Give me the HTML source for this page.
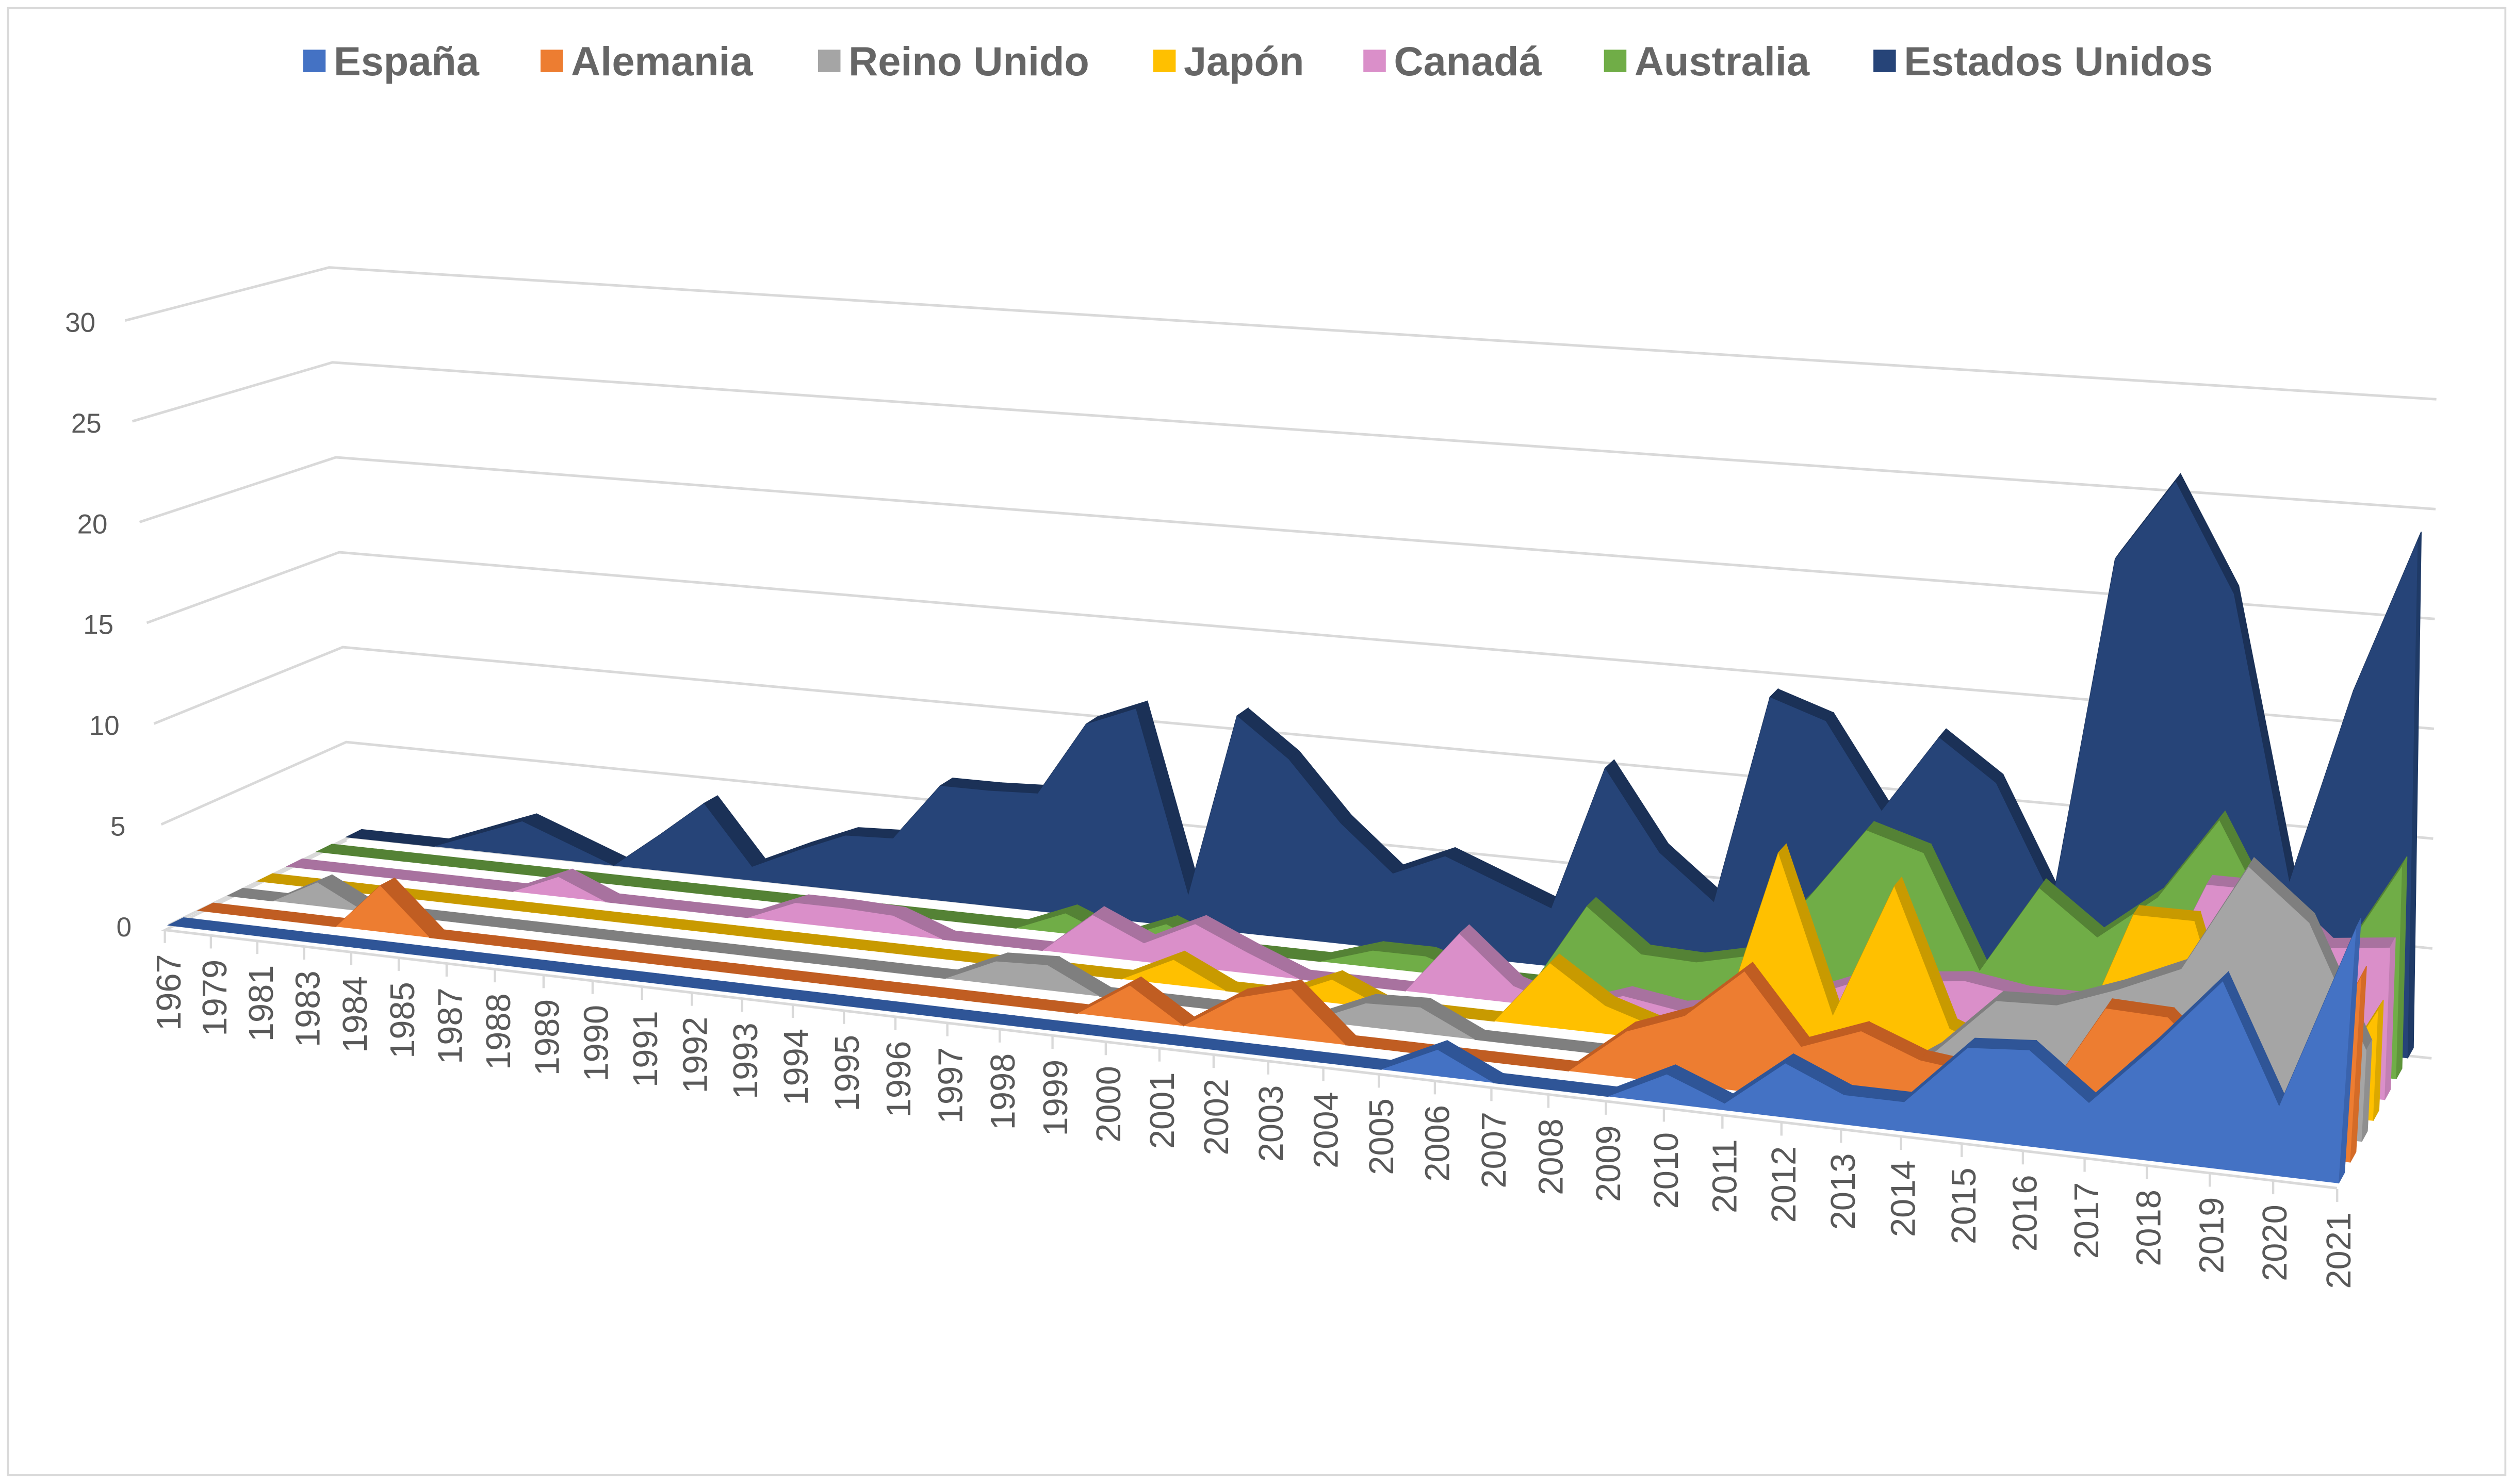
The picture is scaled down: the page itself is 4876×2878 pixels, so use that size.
<!DOCTYPE html>
<html>
<head>
<meta charset="utf-8">
<style>
  html, body { margin: 0; padding: 0; background: #ffffff; }
  svg { display: block; }
  text { font-family: "Liberation Sans", Arial, sans-serif; }
</style>
</head>
<body>
<svg id="chart" xmlns="http://www.w3.org/2000/svg" width="4876" height="2878" viewBox="0 0 1568 925.5">
  <rect x="0" y="0" width="1568" height="925.5" fill="#ffffff"/>
  <rect x="5" y="5" width="1557" height="915" fill="none" stroke="#d9d9d9" stroke-width="1.2"/>
  <g id="legend"></g>
  <g id="walls"></g>
  <g id="floor"></g>
  <g id="series"></g>
  <g id="yaxis"></g>
  <g id="xaxis"></g>
</svg>
<script>
const categories = ["1967","1979","1981","1983","1984","1985","1987","1988","1989","1990","1991","1992","1993","1994","1995","1996","1997","1998","1999","2000","2001","2002","2003","2004","2005","2006","2007","2008","2009","2010","2011","2012","2013","2014","2015","2016","2017","2018","2019","2020","2021"];
const espana = [0,0,0,0,0,0,0,0,0,0,0,0,0,0,0,0,0,0,0,0,0,0,0,0,0,1.2,0,0,0,1.3,0.3,2.4,1.3,1.3,4,4.2,2.2,5,8.1,3,11];
const alemania = [0,0,0,0,2.3,0,0,0,0,0,0,0,0,0,0,0,0,0,0,1.6,0,1.6,2.3,0,0,0,0,0,2.1,3.1,5.4,2.3,3.3,2.3,2,1,5.5,5.4,3,2,8.1];
const reinoUnido = [0,0,1.2,0,0,0,0,0,0,0,0,0,0,0,0,0,1.1,1.2,0,0,0,0,0,1.1,1.2,0,0,0,0,0,0,0,0,1.8,4.4,4.5,5.5,6.7,11.5,9.3,4];
const japon = [0,0,0,0,0,0,0,0,0,0,0,0,0,0,0,0,0,0,0,1.2,0,0,1.1,0,0,0,3,1.3,0.5,0.5,9.2,2,8.2,2,1,1,8,8,0,0,4.9];
const canada = [0,0,0,0,0,0,1,0,0,0,0,1,1,0.9,0,0,0,2,0.9,2.1,1,0,0,0,3,0.8,0,0.9,0.5,1,1.5,2.6,3,3.3,2.9,2.9,2.8,8.8,8.8,6.5,6.8];
const australia = [0,0,0,0,0,0,0,0,0,0,0,0,0,0,0,0,1,0,1,0,0,0,0.8,0.8,0,0,4,2,1.9,2.5,5.5,8.9,8.1,2.9,7,5,7.1,10.9,6,5,9.6];
const estadosUnidos = [0,0,0,0.9,1.8,0.9,0,1.8,3.7,0.7,1.8,2.8,2.9,5.8,5.8,5.9,9.6,10.6,1.6,10.7,8.8,5.9,3.7,4.8,3.8,2.8,9.8,6,3.9,13.9,13,9,12.7,10.8,5.6,21.7,25.5,20.5,7.5,16.5,23.6];
const seriesNames = ["España","Alemania","Reino Unido","Japón","Canadá","Australia","Estados Unidos"];
const yTicks = [0,5,10,15,20,25,30];

const NS = "http://www.w3.org/2000/svg";
const seriesData = [espana, alemania, reinoUnido, japon, canada, australia, estadosUnidos];
const frontColors = ["#4472c4","#ed7d31","#a5a5a5","#ffc000","#da8fc9","#70ad47","#264478"];
const topColors   = ["#2f5597","#c05d22","#7f7f7f","#c89a00","#a8729f","#548235","#1b3157"];
const sideColors  = ["#3a63ad","#d46b27","#8f8f8f","#dba800","#c27fb3","#5f953b","#1f3a66"];

const FL=[105,577], FR=[1458,738], BL=[216,522], BR=[1501,660];
const Q = 0.003887, NX = categories.length - 1;
function T(X){ return (X/(1-Q*X)) / (NX/(1-Q*NX)); }
function lerp(a,b,u){ return a+(b-a)*u; }
function proj(X, d, v){
  const t = T(X);
  const fx = lerp(lerp(FL[0],FR[0],t), lerp(BL[0],BR[0],t), d);
  const fy = lerp(lerp(FL[1],FR[1],t), lerp(BL[1],BR[1],t), d);
  const sc = lerp(lerp(12.57,14.5,t), lerp(11.84,13.7,t), d);
  const tx = lerp(lerp(-0.9,1.0,t), lerp(-0.43,0.27,t), d);
  return [fx + tx*v, fy - sc*v];
}
function pts(arr){ return arr.map(p => p[0].toFixed(2)+","+p[1].toFixed(2)).join(" "); }
function mk(tag, attrs, parent){
  const e = document.createElementNS(NS, tag);
  for (const k in attrs) e.setAttribute(k, attrs[k]);
  parent.appendChild(e);
  return e;
}

const walls = document.getElementById("walls");
yTicks.forEach(v => {
  const lf = [105-0.9*v, 577-12.57*v];
  const lb = [218-0.43*v, 522-11.84*v];
  const rb = [1516+0.1*v, 660-13.7*v];
  const g1 = mk("polyline", {points: pts([lf, lb, rb]), fill:"none", stroke:"#d9d9d9", "stroke-width":"1.6"}, walls);
  
  
});

const floorG = document.getElementById("floor");
const fe0 = [103,580], fe1 = [1457,741];
const fl = mk("polyline", {points: pts([[216,524], fe0, fe1]), fill:"none", stroke:"#d9d9d9", "stroke-width":"1.6"}, floorG);


categories.forEach((c, i) => {
  const p = proj(i, -0.02, 0);
  const tk = mk("line", {x1:p[0], y1:p[1]+2, x2:p[0], y2:p[1]+10, stroke:"#d9d9d9", "stroke-width":"1.4"}, floorG);
  
  
});

const sg = document.getElementById("series");
const DZ = 0.085;
for (let s = seriesData.length - 1; s >= 0; s--) {
  const vals = seriesData[s];
  const d0 = s/6, d1 = s/6 + DZ;
  const g = mk("g", {}, sg);
  
  
  for (let i = 0; i < vals.length - 1; i++) {
    const quad = [proj(i,d0,vals[i]), proj(i+1,d0,vals[i+1]), proj(i+1,d1,vals[i+1]), proj(i,d1,vals[i])];
    const tf = mk("polygon", {points: pts(quad), fill: topColors[s], stroke: topColors[s], "stroke-width":"0.5"}, g);
    
    
  }
  const L = vals.length - 1;
  const side = [proj(L,d0,vals[L]), proj(L,d1,vals[L]), proj(L,d1,0), proj(L,d0,0)];
  const sf = mk("polygon", {points: pts(side), fill: sideColors[s], stroke: sideColors[s], "stroke-width":"0.5"}, g);
  
  
  const front = [proj(0,d0,0)];
  vals.forEach((v,i) => front.push(proj(i,d0,v)));
  front.push(proj(L,d0,0));
  const ff = mk("polygon", {points: pts(front), fill: frontColors[s]}, g);
  
  
}

const ya = document.getElementById("yaxis");
yTicks.forEach(v => {
  const t = mk("text", {x: 82 - 0.75*v, y: 578 - 12.57*v + 6, "text-anchor":"end", "font-size":"17", fill:"#595959"}, ya);
  t.textContent = String(v);
  
  
});

const xa = document.getElementById("xaxis");
categories.forEach((c, i) => {
  const p = proj(i, 0, 0);
  const x = p[0] + 7.5, y = p[1] + 18;
  const t = mk("text", {x: x, y: y, "text-anchor":"end", "font-size":"21.5", fill:"#595959", transform:"rotate(-90 "+x.toFixed(2)+" "+y.toFixed(2)+")"}, xa);
  t.textContent = c;
  
  
});

const lg = document.getElementById("legend");
const legendX = [189, 337, 510, 719, 850, 1000, 1168];
seriesNames.forEach((n, i) => {
  const item = mk("g", {}, lg);
  
  
  const sq = mk("rect", {x: legendX[i], y: 31, width: 14, height: 14, fill: frontColors[i]}, item);
  
  
  const tx = mk("text", {x: legendX[i] + 19, y: 47, "font-size":"25.5", "font-weight":"bold", fill:"#666666"}, item);
  tx.textContent = n;
  
  
});
</script>
</body>
</html>
